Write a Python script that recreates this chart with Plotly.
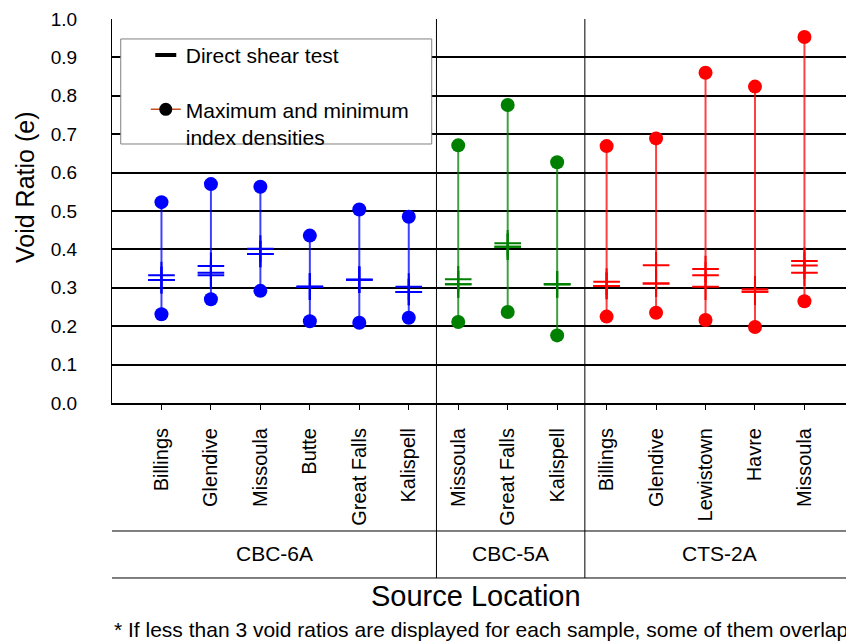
import plotly.graph_objects as go

# Source locations, grouped by gradation
groups = ["CBC-6A", "CBC-5A", "CTS-2A"]
locations_cbc6a = ["Billings", "Glendive", "Missoula", "Butte", "Great Falls", "Kalispell"]
locations_cbc5a = ["Missoula", "Great Falls", "Kalispell"]
locations_cts2a = ["Billings", "Glendive", "Lewistown", "Havre", "Missoula"]

# Void ratios at maximum / minimum index density
e_max_cbc6a = [0.523, 0.570, 0.563, 0.436, 0.504, 0.485]
e_min_cbc6a = [0.231, 0.270, 0.292, 0.213, 0.209, 0.222]
e_max_cbc5a = [0.671, 0.776, 0.627]
e_min_cbc5a = [0.211, 0.237, 0.176]
e_max_cts2a = [0.669, 0.689, 0.860, 0.824, 0.953]
e_min_cts2a = [0.225, 0.235, 0.216, 0.198, 0.265]

# Void ratios of the direct shear specimens (three per sample)
shear_cbc6a = [
    [0.333, 0.320, 0.320],
    [0.357, 0.339, 0.333],
    [0.402, 0.388, 0.388],
    [0.303, 0.303, 0.303],
    [0.321, 0.321, 0.321],
    [0.303, 0.289, 0.289],
]
shear_cbc5a = [
    [0.322, 0.309, 0.309],
    [0.416, 0.407, 0.407],
    [0.309, 0.309, 0.309],
]
shear_cts2a = [
    [0.316, 0.305, 0.305],
    [0.359, 0.311, 0.311],
    [0.349, 0.333, 0.303],
    [0.296, 0.290, 0.290],
    [0.370, 0.358, 0.339],
]

y_ticks = [round(0.1 * k, 1) for k in range(11)]

series = [
    (groups[0], locations_cbc6a, e_max_cbc6a, e_min_cbc6a, shear_cbc6a, "#0000FF", "rgba(0,0,255,0.75)"),
    (groups[1], locations_cbc5a, e_max_cbc5a, e_min_cbc5a, shear_cbc5a, "#008000", "rgba(0,128,0,0.75)"),
    (groups[2], locations_cts2a, e_max_cts2a, e_min_cts2a, shear_cts2a, "#FF0000", "rgba(255,0,0,0.75)"),
]

FONT = "Liberation Sans, Arial, Helvetica, sans-serif"

fig = go.Figure()

all_labels = []
group_spans = []
pos = 0
for name, locs, emax, emin, shear, color, line_color in series:
    xs = list(range(pos, pos + len(locs)))
    group_spans.append((name, xs[0], xs[-1]))
    all_labels.extend(locs)

    # vertical range from minimum to maximum void ratio
    lx, ly = [], []
    for x, lo, hi in zip(xs, emin, emax):
        lx += [x, x, None]
        ly += [lo, hi, None]
    fig.add_trace(go.Scatter(x=lx, y=ly, mode="lines",
                             line=dict(color=line_color, width=2),
                             showlegend=False, hoverinfo="skip"))

    # direct shear specimens
    sx, sy = [], []
    for x, vals in zip(xs, shear):
        sx += [x] * len(vals)
        sy += vals
    fig.add_trace(go.Scatter(x=sx, y=sy, mode="markers",
                             marker=dict(symbol="cross-thin", size=19,
                                         line=dict(color=color, width=2)),
                             showlegend=False))

    # max / min index density end points
    fig.add_trace(go.Scatter(x=xs + xs, y=emax + emin, mode="markers",
                             marker=dict(symbol="circle", size=14, color=color),
                             showlegend=False))
    pos += len(locs)

# legend entries
fig.add_trace(go.Scatter(x=[None], y=[None], mode="markers", name="Direct shear test",
                         legendgroup="a",
                         marker=dict(symbol="line-ew", size=15,
                                     line=dict(color="black", width=4))))
fig.add_trace(go.Scatter(x=[None], y=[None], mode="lines+markers",
                         name="Maximum and minimum<br>index densities",
                         legendgroup="b",
                         line=dict(color="#C8501E", width=1.5),
                         marker=dict(symbol="circle", size=13, color="black")))

n = len(all_labels)
x_lo, x_hi = -1, 13.84

shapes = []
# separators between gradations
for _, _, last in group_spans[:-1]:
    shapes.append(dict(type="line", xref="x", yref="paper", x0=last + 0.56, x1=last + 0.56,
                       y0=-0.4557, y1=1, line=dict(color="black", width=1)))
# frame lines of the gradation row
for yp in (-0.3333, -0.4557):
    shapes.append(dict(type="line", xref="paper", yref="paper", x0=0, x1=1,
                       y0=yp, y1=yp, line=dict(color="black", width=1)))
# legend frame
shapes.append(dict(type="rect", xref="paper", yref="paper", x0=0.0119, x1=0.4356,
                   y0=0.6745, y1=0.948, fillcolor="white",
                   line=dict(color="#808080", width=1), layer="above"))

annotations = []
edges = [x_lo] + [last + 0.56 for _, _, last in group_spans[:-1]] + [n]
for (name, _, _), a, b in zip(group_spans, edges[:-1], edges[1:]):
    annotations.append(dict(text=name, x=(a + b) / 2, xref="x", y=-0.428, yref="paper",
                            showarrow=False, font=dict(size=21, family=FONT)))
annotations.append(dict(text="Source Location", x=0.496, xref="paper", xanchor="center",
                        y=-0.55, yref="paper", showarrow=False,
                        font=dict(size=29, family=FONT)))
annotations.append(dict(text="* If less than 3 void ratios are displayed for each sample, "
                             "some of them overlap",
                        x=0, xref="paper", xanchor="left", y=-0.625, yref="paper",
                        showarrow=False, font=dict(size=21, family=FONT)))
annotations.append(dict(text="Void Ratio (e)", x=-0.1185, xref="paper", xanchor="center",
                        y=0.56, yref="paper", yanchor="middle", textangle=-90,
                        showarrow=False, font=dict(size=25, family=FONT)))

fig.update_layout(
    width=846, height=641,
    margin=dict(l=112, r=0, t=19, b=238, pad=0),
    paper_bgcolor="white", plot_bgcolor="white",
    font=dict(family=FONT, color="black"),
    xaxis=dict(range=[x_lo, x_hi], tickmode="array", tickvals=list(range(n)),
               ticktext=all_labels, tickangle=-90, tickfont=dict(size=20),
               ticks="outside", ticklen=5, tickcolor="black",
               showgrid=False, zeroline=False,
               showline=True, linecolor="black", linewidth=2, ticklabelstandoff=10),
    yaxis=dict(range=[0, 1], tickmode="array", tickvals=y_ticks,
               ticktext=[f"{v:.1f}" for v in y_ticks], tickfont=dict(size=19),
               ticks="inside", ticklen=7, tickcolor="black",
               showgrid=True, gridcolor="black", gridwidth=1.5, zeroline=False,
               showline=True, linecolor="black", linewidth=1, ticklabelstandoff=30),
    showlegend=True,
    legend=dict(x=0.046, y=0.9586, xanchor="left", yanchor="top",
                bgcolor="rgba(0,0,0,0)", borderwidth=0, font=dict(size=21),
                traceorder="grouped", tracegroupgap=24, valign="top"),
    shapes=shapes, annotations=annotations,
)

fig.write_html("out.html")
